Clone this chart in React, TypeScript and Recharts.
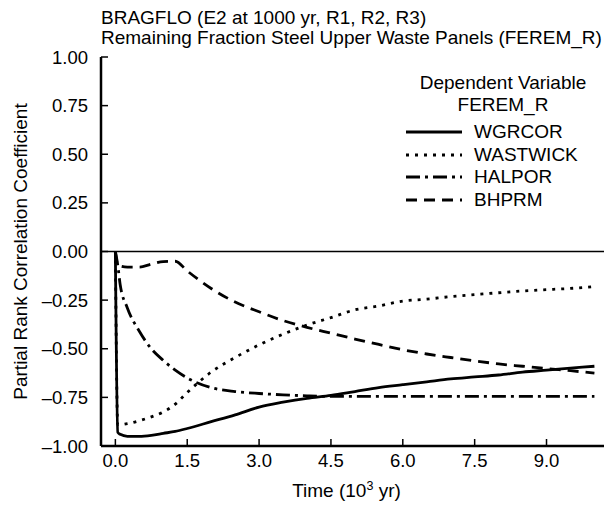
import React from "react";
import { LineChart, Line, XAxis, YAxis, ReferenceLine, Legend } from "recharts";

const FONT = '"Liberation Sans", Arial, Helvetica, sans-serif';

// time in 10^3 yr
const times = [0, 0.05, 0.1, 0.25, 0.5, 0.75, 1.0, 1.25, 1.5, 2.0, 2.5, 3.0, 3.5, 4.0, 4.5, 5.0, 5.5, 6.0, 6.5, 7.0, 7.5, 8.0, 8.5, 9.0, 9.5, 10.0];
const wgrcor = [0, -0.93, -0.94, -0.95, -0.95, -0.945, -0.935, -0.925, -0.91, -0.875, -0.84, -0.8, -0.775, -0.755, -0.74, -0.72, -0.7, -0.685, -0.67, -0.655, -0.645, -0.635, -0.62, -0.61, -0.6, -0.59];
const wastwick = [0, -0.89, -0.89, -0.885, -0.87, -0.85, -0.825, -0.785, -0.725, -0.62, -0.545, -0.48, -0.425, -0.378, -0.34, -0.3, -0.28, -0.255, -0.245, -0.232, -0.222, -0.212, -0.203, -0.196, -0.19, -0.18];
const halpor = [0, -0.07, -0.17, -0.29, -0.41, -0.5, -0.56, -0.61, -0.65, -0.7, -0.72, -0.73, -0.737, -0.742, -0.745, -0.745, -0.745, -0.745, -0.745, -0.745, -0.745, -0.745, -0.745, -0.745, -0.745, -0.745];
const bhprm = [0, -0.07, -0.075, -0.08, -0.08, -0.065, -0.052, -0.05, -0.1, -0.19, -0.26, -0.31, -0.355, -0.39, -0.42, -0.45, -0.478, -0.505, -0.527, -0.545, -0.562, -0.578, -0.59, -0.602, -0.613, -0.625];

const xTicks = [0, 1.5, 3, 4.5, 6, 7.5, 9];
const yTicks = [-1, -0.75, -0.5, -0.25, 0, 0.25, 0.5, 0.75, 1];

const series = [
  { key: "WGRCOR", values: wgrcor, dash: undefined as string | undefined },
  { key: "WASTWICK", values: wastwick, dash: "3 6" },
  { key: "HALPOR", values: halpor, dash: "14 5 3 5" },
  { key: "BHPRM", values: bhprm, dash: "11 7" },
];

const data = times.map((t, i) => {
  const row: Record<string, number> = { t };
  series.forEach((s) => (row[s.key] = s.values[i]));
  return row;
});

const fmtY = (v: number) => (v < 0 ? "\u2013" + Math.abs(v).toFixed(2) : v.toFixed(2));

const FS = 19;
const tickStyle = { fill: "#000", fontSize: 18.5, fontFamily: FONT };
const frame = { stroke: "#000", strokeWidth: 2.5 };
const tickLn = { stroke: "#000", strokeWidth: 1.5 };

function XLabel({ viewBox }: any) {
  const cx = viewBox.x + viewBox.width / 2 - 6;
  return (
    <text x={cx} y={497} textAnchor="middle" fontSize={FS} fontFamily={FONT} fill="#000">
      Time (10
      <tspan fontSize={12.5} dy={-7}>3</tspan>
      <tspan dy={7}> yr)</tspan>
    </text>
  );
}

function YLabel({ viewBox }: any) {
  const cy = viewBox.y + viewBox.height / 2;
  return (
    <text
      x={20}
      y={cy}
      transform={`rotate(-90, 20, ${cy})`}
      textAnchor="middle"
      dominantBaseline="central"
      fontSize={FS}
      fontFamily={FONT}
      fill="#000"
    >
      Partial Rank Correlation Coefficient
    </text>
  );
}

function LegendBox() {
  return (
    <div style={{ width: 194, fontFamily: FONT, fontSize: FS, color: "#000" }}>
      <div style={{ textAlign: "center", lineHeight: "22px", whiteSpace: "nowrap" }}>
        Dependent Variable
        <br />
        FEREM_R
      </div>
      <div style={{ marginTop: 5 }}>
        {series.map((s) => (
          <div key={s.key} style={{ display: "flex", alignItems: "center", height: 22.5 }}>
            <svg width={56} height={10}>
              <line x1={0} y1={5} x2={56} y2={5} stroke="#000" strokeWidth={2.8} strokeDasharray={s.dash} />
            </svg>
            <span style={{ marginLeft: 12 }}>{s.key}</span>
          </div>
        ))}
      </div>
    </div>
  );
}

export default function App() {
  return (
    <div style={{ position: "absolute", left: 0, top: 0, width: 612, height: 506, background: "#fff" }}>
      <div
        style={{
          position: "absolute",
          left: 101,
          top: 8,
          fontFamily: FONT,
          fontSize: FS,
          lineHeight: "20px",
          color: "#000",
          whiteSpace: "nowrap",
          zIndex: 2,
        }}
      >
        BRAGFLO (E2 at 1000 yr, R1, R2, R3)
        <br />
        Remaining Fraction Steel Upper Waste Panels (FEREM_R)
      </div>
      <LineChart width={612} height={506} data={data} margin={{ top: 57, right: 8, bottom: 0, left: 0 }}>
        <XAxis
          dataKey="t"
          type="number"
          domain={[-0.3, 10.2]}
          ticks={xTicks}
          allowDataOverflow
          height={60}
          tickSize={-7}
          tickMargin={15}
          tickFormatter={(v: number) => v.toFixed(1)}
          tick={tickStyle}
          axisLine={frame}
          tickLine={tickLn}
          label={<XLabel />}
        />
        <XAxis
          xAxisId="top"
          orientation="top"
          dataKey="t"
          type="number"
          domain={[-0.3, 10.2]}
          ticks={xTicks}
          allowDataOverflow
          height={0}
          tickSize={-7}
          tick={false}
          axisLine={frame}
          tickLine={tickLn}
        />
        <YAxis
          type="number"
          domain={[-1, 1]}
          ticks={yTicks}
          width={101}
          tickSize={-7}
          tickMargin={20}
          tickFormatter={fmtY}
          tick={tickStyle}
          axisLine={frame}
          tickLine={tickLn}
          label={<YLabel />}
        />
        <YAxis
          yAxisId="right"
          orientation="right"
          type="number"
          domain={[-1, 1]}
          ticks={yTicks}
          width={0}
          tickSize={-7}
          tick={false}
          axisLine={frame}
          tickLine={tickLn}
        />
        <ReferenceLine y={0} stroke="#000" strokeWidth={1.5} />
        {series.map((s) => (
          <Line
            key={s.key}
            dataKey={s.key}
            name={s.key}
            type="monotone"
            stroke="#000"
            strokeWidth={2.8}
            strokeDasharray={s.dash}
            dot={false}
            isAnimationActive={false}
          />
        ))}
        <Legend
          layout="horizontal"
          verticalAlign="middle"
          align="center"
          content={<LegendBox />}
          wrapperStyle={{ position: "absolute", left: 406, top: 72, width: 194 }}
        />
      </LineChart>
    </div>
  );
}
